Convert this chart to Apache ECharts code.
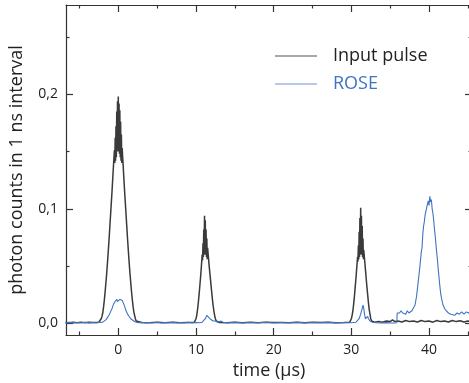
<!DOCTYPE html>
<html>
<head>
<meta charset="utf-8">
<script src="https://cdn.jsdelivr.net/npm/echarts@6/dist/echarts.min.js"></script>
<style>
html,body{margin:0;padding:0;background:#fff;}
#chart{width:469px;height:383px;}
</style>
</head>
<body>
<div id="chart"></div>
<script>
// ---- data ----
var xMajorTicks = [0, 10, 20, 30, 40];
var xMinorTicks = [-5, 5, 15, 25, 35, 45];
var yMajorTicks = [0, 0.1, 0.2];
var yMinorTicks = [0.05, 0.15, 0.25];

var inputT = [
  -6.8, -6.3, -5.8, -5.3, -4.8, -4.3, -3.8, -3.3, -2.8,
  -2.5, -2.4, -2.3, -2.2, -2.1, -2.0, -1.9, -1.8, -1.7, -1.6, -1.5, -1.4, -1.3, -1.2, -1.1, -1.0,
  -0.9, -0.8, -0.7, -0.6, -0.5, -0.45, -0.4, -0.35, -0.3, -0.25, -0.2, -0.15, -0.1, -0.05, 0.0,
  0.05, 0.1, 0.15, 0.2, 0.25, 0.3, 0.35, 0.4, 0.45, 0.5, 0.6, 0.7,
  0.8, 0.9, 1.0, 1.1, 1.2, 1.3, 1.4, 1.5, 1.6, 1.7, 1.8, 1.9, 2.0, 2.1, 2.2, 2.3, 2.4, 2.5,
  3, 4, 5, 6, 7, 8, 9,
  9.8, 9.9, 10.0, 10.1, 10.2, 10.3, 10.4, 10.5, 10.6, 10.7, 10.8, 10.85, 10.9, 10.95, 11.0, 11.05,
  11.1, 11.15, 11.2, 11.25, 11.3, 11.35, 11.4, 11.45, 11.5, 11.6, 11.7, 11.8, 11.9, 12.0, 12.1,
  12.2, 12.3, 12.4, 12.5, 12.6, 12.7,
  13, 14, 15, 16, 17, 18, 19, 20, 21, 22, 23, 24, 25, 26, 27, 28, 29,
  29.8, 29.9, 30.0, 30.1, 30.2, 30.3, 30.4, 30.5, 30.6, 30.7, 30.8, 30.85, 30.9, 30.95, 31.0, 31.05,
  31.1, 31.15, 31.2, 31.25, 31.3, 31.35, 31.4, 31.45, 31.5, 31.55, 31.6, 31.7, 31.8, 31.9, 32.0,
  32.1, 32.2, 32.3, 32.4, 32.5, 32.6, 32.7,
  33.0, 33.5, 34.0, 34.5, 35.0, 35.3, 35.6, 36.0, 36.5, 37.0, 37.5, 38.0, 38.5, 39.0, 39.5,
  40.0, 40.5, 41.0, 41.5, 42.0, 42.5, 43.0, 43.5, 44.0, 44.5, 45.0, 45.5
];
var inputY = [
  0.0008, 0.0005, 0.001, 0.0006, 0.0009, 0.0005, 0.001, 0.0007, 0.0008,
  0.001, 0.001, 0.002, 0.004, 0.006, 0.009, 0.014, 0.020, 0.027, 0.035, 0.043, 0.052, 0.062, 0.072, 0.083, 0.094,
  0.105, 0.116, 0.128, 0.140, 0.151, 0.140, 0.162, 0.142, 0.172, 0.145, 0.185, 0.150, 0.194, 0.155, 0.198,
  0.150, 0.192, 0.148, 0.186, 0.145, 0.176, 0.142, 0.165, 0.140, 0.153, 0.141, 0.129,
  0.117, 0.106, 0.095, 0.084, 0.073, 0.063, 0.053, 0.044, 0.036, 0.028, 0.021, 0.015, 0.010, 0.007, 0.004, 0.002, 0.001, 0.001,
  0.0008, 0.0005, 0.001, 0.0006, 0.0009, 0.0005, 0.0008,
  0.001, 0.002, 0.004, 0.007, 0.012, 0.018, 0.025, 0.033, 0.041, 0.050, 0.060, 0.055, 0.070, 0.058, 0.082, 0.060,
  0.094, 0.062, 0.090, 0.060, 0.082, 0.058, 0.074, 0.056, 0.066, 0.058, 0.050, 0.043, 0.036, 0.029, 0.022,
  0.016, 0.011, 0.007, 0.004, 0.002, 0.001,
  0.0008, 0.0005, 0.001, 0.0006, 0.0009, 0.0005, 0.001, 0.0007, 0.0008, 0.0006, 0.001, 0.0005, 0.0009, 0.0007, 0.001, 0.0006, 0.0008,
  0.001, 0.002, 0.004, 0.007, 0.011, 0.017, 0.024, 0.032, 0.040, 0.049, 0.058, 0.054, 0.068, 0.056, 0.080, 0.058,
  0.092, 0.060, 0.101, 0.062, 0.094, 0.060, 0.085, 0.058, 0.074, 0.056, 0.064, 0.056, 0.048, 0.040, 0.032,
  0.025, 0.018, 0.012, 0.008, 0.004, 0.002, 0.001,
  0.001, 0.0015, 0.001, 0.002, 0.0015, 0.003, 0.0015, 0.002, 0.0012, 0.0025, 0.0015, 0.002, 0.0012, 0.0025, 0.0015,
  0.002, 0.001, 0.0025, 0.0015, 0.002, 0.0012, 0.0025, 0.0015, 0.0022, 0.0012, 0.002, 0.0015
];

var roseT = [
  -6.8, -6.3, -5.8, -5.3, -4.8, -4.3, -3.8, -3.3, -2.8, -2.4,
  -2.0, -1.8, -1.6, -1.4, -1.2, -1.0, -0.8, -0.6, -0.4, -0.2, -0.1, 0.0, 0.1, 0.2, 0.3, 0.4, 0.5,
  0.6, 0.7, 0.8, 1.0, 1.2, 1.4, 1.6, 1.8, 2.0, 2.3, 2.6,
  3.0, 3.5, 4.0, 4.5, 5.0, 5.5, 6.0, 6.5, 7.0, 7.5, 8.0, 8.5, 9.0, 9.5, 10.0, 10.5,
  10.8, 11.0, 11.2, 11.4, 11.5, 11.6, 11.8, 12.0, 12.2, 12.5, 12.8, 13.2, 13.5,
  14, 15, 16, 17, 18, 19, 20, 21, 22, 23, 24, 25, 26, 27, 28, 29, 30,
  30.6, 30.8, 31.0, 31.2, 31.4, 31.5, 31.6, 31.7, 31.8, 31.9, 32.0, 32.1, 32.2, 32.4, 32.7,
  33.2, 33.8, 34.4, 35.0, 35.5, 35.85,
  35.9, 36.0, 36.2, 36.4, 36.6, 36.8, 37.0, 37.2, 37.4, 37.6, 37.8, 38.0, 38.2, 38.4, 38.6, 38.8,
  39.0, 39.1, 39.2, 39.3, 39.4, 39.5, 39.6, 39.7, 39.8, 39.9, 40.0, 40.1, 40.2, 40.3, 40.4, 40.5,
  40.6, 40.7, 40.8, 40.9, 41.0, 41.1, 41.2, 41.3, 41.4, 41.5, 41.6, 41.8, 42.0, 42.2, 42.5, 42.8,
  43.0, 43.3, 43.6, 43.9, 44.2, 44.5, 44.8, 45.1, 45.5
];
var roseY = [
  0.0005, 0.0008, 0.0004, 0.0007, 0.0005, 0.0009, 0.0004, 0.0006, 0.0005, 0.0008,
  0.001, 0.002, 0.003, 0.005, 0.007, 0.010, 0.013, 0.017, 0.019, 0.021, 0.019, 0.020, 0.018, 0.021, 0.020, 0.022, 0.020,
  0.019, 0.017, 0.015, 0.011, 0.008, 0.006, 0.004, 0.003, 0.002, 0.001, 0.0005,
  0.0008, 0.0004, 0.0007, 0.0005, 0.0009, 0.0004, 0.0006, 0.0005, 0.0008, 0.0004, 0.0007, 0.0005, 0.0008, 0.0004, 0.0006, 0.0005,
  0.001, 0.002, 0.004, 0.007, 0.0075, 0.006, 0.004, 0.003, 0.002, 0.002, 0.001, 0.002, 0.001,
  0.0005, 0.0008, 0.0004, 0.0007, 0.0005, 0.0009, 0.0004, 0.0006, 0.0005, 0.0008, 0.0004, 0.0007, 0.0005, 0.0008, 0.0004, 0.0006, 0.0005,
  0.001, 0.002, 0.004, 0.008, 0.013, 0.016, 0.013, 0.008, 0.004, 0.003, 0.005, 0.006, 0.004, 0.002, 0.001,
  0.0005, 0.0003, 0.0006, 0.0004, 0.0003, 0.0005,
  0.009, 0.010, 0.009, 0.011, 0.009, 0.010, 0.008, 0.011, 0.009, 0.010, 0.011, 0.012, 0.016, 0.024, 0.036, 0.048,
  0.062, 0.066, 0.078, 0.085, 0.089, 0.095, 0.098, 0.101, 0.104, 0.107, 0.103, 0.111, 0.106, 0.108, 0.100, 0.096,
  0.090, 0.082, 0.076, 0.068, 0.061, 0.054, 0.046, 0.039, 0.032, 0.026, 0.022, 0.016, 0.013, 0.011, 0.009, 0.008,
  0.009, 0.007, 0.009, 0.008, 0.010, 0.008, 0.010, 0.009, 0.012
];

var seriesNames = ['Input pulse', 'ROSE'];
var xTitle = 'time (\u03bcs)';
var yTitle = 'photon counts in 1 ns interval';

// ---- chart ----
function pairs(t, y) { return t.map(function (v, i) { return [v, y[i]]; }); }

var X_MIN = -6.73, X_MAX = 45.53, Y_MIN = -0.0102, Y_MAX = 0.278;
var AX = '#333';
var FONT = 'Open Sans';
var BLACK = '#3a3a3a', BLUE = '#3f73c4';

function xAx(grid, pos, ticks, len, labels, extra) {
  var o = {
    type: 'value', gridIndex: grid, position: pos, min: X_MIN, max: X_MAX,
    axisLine: { show: grid === 0, onZero: false, lineStyle: { color: AX, width: 1.2 } },
    axisTick: { show: true, inside: true, length: len, customValues: ticks, lineStyle: { color: AX, width: 1.2 } },
    axisLabel: labels ? { show: true, customValues: ticks, fontFamily: FONT, fontSize: 14, color: '#222', margin: 8 } : { show: false },
    splitLine: { show: false }
  };
  for (var k in (extra || {})) o[k] = extra[k];
  return o;
}
function yAx(grid, pos, ticks, len, labels, extra) {
  var o = {
    type: 'value', gridIndex: grid, position: pos, min: Y_MIN, max: Y_MAX,
    axisLine: { show: grid === 0, onZero: false, lineStyle: { color: AX, width: 1.2 } },
    axisTick: { show: true, inside: true, length: len, customValues: ticks, lineStyle: { color: AX, width: 1.2 } },
    axisLabel: labels ? { show: true, customValues: ticks, fontFamily: FONT, fontSize: 14, color: '#222', margin: 8,
      formatter: function (v) { return v.toFixed(1).replace('.', ','); } } : { show: false },
    splitLine: { show: false }
  };
  for (var k in (extra || {})) o[k] = extra[k];
  return o;
}

var gridBox = { left: 66, right: -3, top: 5, bottom: 48, containLabel: false, outerBoundsMode: 'none' };

var chart = echarts.init(document.getElementById('chart'), null, { renderer: 'canvas' });
chart.setOption({
  animation: false,
  backgroundColor: '#fff',
  grid: [gridBox, gridBox],
  xAxis: [
    xAx(0, 'bottom', xMajorTicks, 7, true, { name: xTitle, nameLocation: 'middle', nameGap: 27,
      nameTextStyle: { fontFamily: FONT, fontSize: 18, color: '#222' } }),
    xAx(0, 'top', xMajorTicks, 7, false),
    xAx(1, 'bottom', xMinorTicks, 3.5, false),
    xAx(1, 'top', xMinorTicks, 3.5, false)
  ],
  yAxis: [
    yAx(0, 'left', yMajorTicks, 7, true, { name: yTitle, nameLocation: 'middle', nameGap: 40,
      nameTextStyle: { fontFamily: FONT, fontSize: 18, color: '#222' } }),
    yAx(0, 'right', yMajorTicks, 7, false),
    yAx(1, 'left', yMinorTicks, 3.5, false),
    yAx(1, 'right', yMinorTicks, 3.5, false)
  ],
  legend: {
    orient: 'vertical', left: 270, top: 39, itemWidth: 42, itemHeight: 1.2, itemGap: 4,
    icon: 'rect',
    textStyle: { fontFamily: FONT, fontSize: 18, padding: [0, 0, 0, 11], lineHeight: 24 },
    data: [
      { name: seriesNames[0], textStyle: { color: '#222' } },
      { name: seriesNames[1], textStyle: { color: BLUE } }
    ]
  },
  series: [
    { name: seriesNames[0], type: 'line', xAxisIndex: 0, yAxisIndex: 0, symbol: 'none', showSymbol: false,
      data: pairs(inputT, inputY), lineStyle: { color: BLACK, width: 1.5 }, itemStyle: { color: '#555' } },
    { name: seriesNames[1], type: 'line', xAxisIndex: 0, yAxisIndex: 0, symbol: 'none', showSymbol: false,
      data: pairs(roseT, roseY), lineStyle: { color: BLUE, width: 1.1 }, itemStyle: { color: '#6c95d6' } }
  ]
});
</script>
</body>
</html>
